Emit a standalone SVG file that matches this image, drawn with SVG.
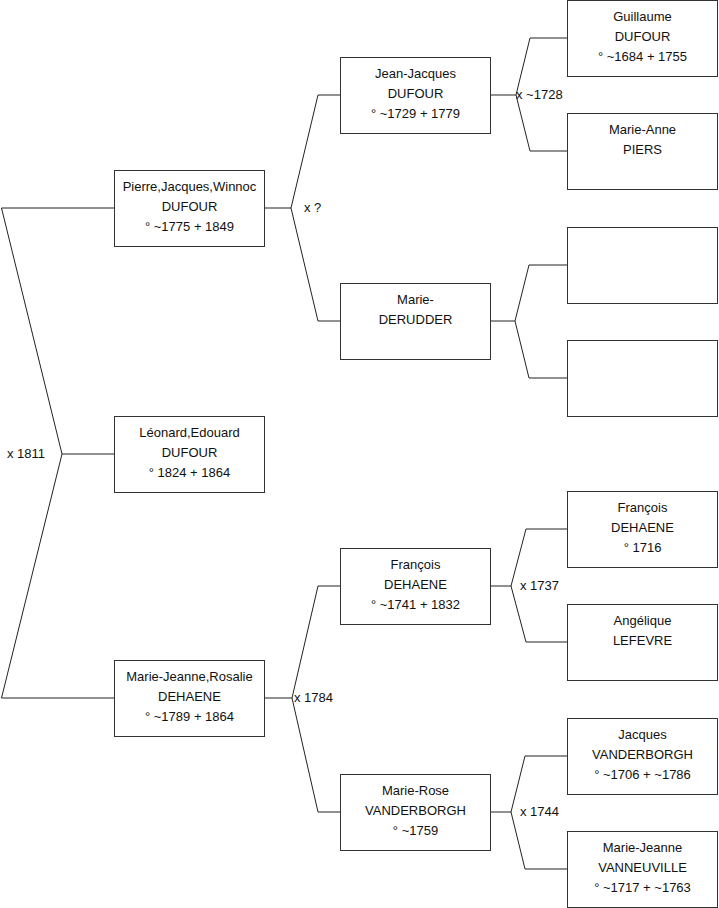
<svg xmlns="http://www.w3.org/2000/svg" width="719" height="908" viewBox="0 0 719 908">
<style>
.box{fill:#fff;stroke:#333;stroke-width:1}
.ln{fill:none;stroke:#222;stroke-width:1}
text{font-family:"Liberation Sans",Arial,sans-serif;font-size:13px;fill:#111}
.c{text-anchor:middle}
</style>
<rect width="719" height="908" fill="#fff"/>
<g id="connectors">
<polyline class="ln" points="114,208 1.5,208 62,454 1.5,698 114,698"/>
<line class="ln" x1="62" y1="454" x2="114" y2="454"/>
<polyline class="ln" points="340,95 318,95 291,208 318,321 340,321"/>
<line class="ln" x1="264" y1="208" x2="291" y2="208"/>
<polyline class="ln" points="340,586 318,586 292,698 318,812 340,812"/>
<line class="ln" x1="264" y1="698" x2="292" y2="698"/>
<polyline class="ln" points="567,38 530,38 516,95 530,151 567,151"/>
<line class="ln" x1="490" y1="95" x2="516" y2="95"/>
<polyline class="ln" points="567,265 529,265 515,321 529,378 567,378"/>
<line class="ln" x1="490" y1="321" x2="515" y2="321"/>
<polyline class="ln" points="567,529 526,529 511,586 526,642 567,642"/>
<line class="ln" x1="490" y1="586" x2="511" y2="586"/>
<polyline class="ln" points="567,756 525,756 511,812 525,869 567,869"/>
<line class="ln" x1="490" y1="812" x2="511" y2="812"/>
<text x="7" y="458">x 1811</text>
<text x="304" y="212">x ?</text>
<text x="294" y="702">x 1784</text>
<text x="516" y="99">x ~1728</text>
<text x="520" y="590">x 1737</text>
<text x="520" y="816">x 1744</text>
</g>
<g id="pierre"><rect class="box" x="114.5" y="170.5" width="150" height="76"/>
<text class="c" x="189.5" y="191">Pierre,Jacques,Winnoc</text><text class="c" x="189.5" y="211">DUFOUR</text><text class="c" x="189.5" y="231">° ~1775 + 1849</text></g>
<g id="leonard"><rect class="box" x="114.5" y="416.5" width="150" height="76"/>
<text class="c" x="189.5" y="437">Léonard,Edouard</text><text class="c" x="189.5" y="457">DUFOUR</text><text class="c" x="189.5" y="477">° 1824 + 1864</text></g>
<g id="mariejeanne-rosalie"><rect class="box" x="114.5" y="660.5" width="150" height="76"/>
<text class="c" x="189.5" y="681">Marie-Jeanne,Rosalie</text><text class="c" x="189.5" y="701">DEHAENE</text><text class="c" x="189.5" y="721">° ~1789 + 1864</text></g>
<g id="jeanjacques"><rect class="box" x="340.5" y="57.5" width="150" height="76"/>
<text class="c" x="415.5" y="78">Jean-Jacques</text><text class="c" x="415.5" y="98">DUFOUR</text><text class="c" x="415.5" y="118">° ~1729 + 1779</text></g>
<g id="mariederudder"><rect class="box" x="340.5" y="283.5" width="150" height="76"/>
<text class="c" x="415.5" y="304">Marie-</text><text class="c" x="415.5" y="324">DERUDDER</text></g>
<g id="francois"><rect class="box" x="340.5" y="548.5" width="150" height="76"/>
<text class="c" x="415.5" y="569">François</text><text class="c" x="415.5" y="589">DEHAENE</text><text class="c" x="415.5" y="609">° ~1741 + 1832</text></g>
<g id="marierose"><rect class="box" x="340.5" y="774.5" width="150" height="76"/>
<text class="c" x="415.5" y="795">Marie-Rose</text><text class="c" x="415.5" y="815">VANDERBORGH</text><text class="c" x="415.5" y="835">° ~1759</text></g>
<g id="guillaume"><rect class="box" x="567.5" y="0.5" width="150" height="76"/>
<text class="c" x="642.5" y="21">Guillaume</text><text class="c" x="642.5" y="41">DUFOUR</text><text class="c" x="642.5" y="61">° ~1684 + 1755</text></g>
<g id="marieanne"><rect class="box" x="567.5" y="113.5" width="150" height="76"/>
<text class="c" x="642.5" y="134">Marie-Anne</text><text class="c" x="642.5" y="154">PIERS</text></g>
<g id="empty1"><rect class="box" x="567.5" y="227.5" width="150" height="76"/></g>
<g id="empty2"><rect class="box" x="567.5" y="340.5" width="150" height="76"/></g>
<g id="francoisd"><rect class="box" x="567.5" y="491.5" width="150" height="76"/>
<text class="c" x="642.5" y="512">François</text><text class="c" x="642.5" y="532">DEHAENE</text><text class="c" x="642.5" y="552">° 1716</text></g>
<g id="angelique"><rect class="box" x="567.5" y="604.5" width="150" height="76"/>
<text class="c" x="642.5" y="625">Angélique</text><text class="c" x="642.5" y="645">LEFEVRE</text></g>
<g id="jacques"><rect class="box" x="567.5" y="718.5" width="150" height="76"/>
<text class="c" x="642.5" y="739">Jacques</text><text class="c" x="642.5" y="759">VANDERBORGH</text><text class="c" x="642.5" y="779">° ~1706 + ~1786</text></g>
<g id="mariejeannev"><rect class="box" x="567.5" y="831.5" width="150" height="76"/>
<text class="c" x="642.5" y="852">Marie-Jeanne</text><text class="c" x="642.5" y="872">VANNEUVILLE</text><text class="c" x="642.5" y="892">° ~1717 + ~1763</text></g>
</svg>
